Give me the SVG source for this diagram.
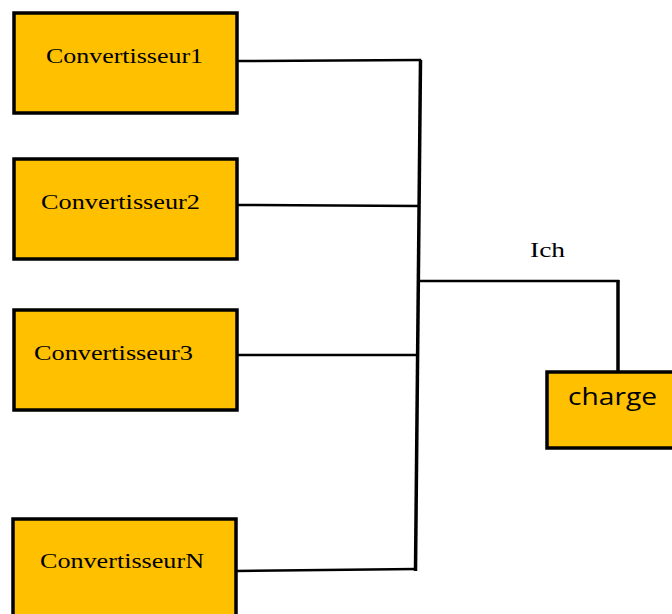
<svg xmlns="http://www.w3.org/2000/svg" width="672" height="614" viewBox="0 0 672 614">
  <style>
    .box { fill: #FFC000; stroke: #000; stroke-width: 3.5; }
    .lbl { font-family: "Liberation Serif", "Times New Roman", serif; font-size: 22px; fill: #000; }
    .lbl2 { font-family: "Open Sans", "Noto Sans", sans-serif; font-size: 24px; fill: #000; }
    .wire { fill: none; stroke: #000; stroke-width: 2.5; stroke-linecap: square; }
    .bus { fill: none; stroke: #000; stroke-width: 3.5; }
  </style>
  <rect width="672" height="614" fill="#fff"/>

  <g id="connectors">
    <!-- common bus -->
    <path class="bus" d="M420.5 60 L415.5 571"/>
    <!-- converter feeders -->
    <path class="wire" d="M237 61 L420 60"/>
    <path class="wire" d="M237 205 L418 206"/>
    <path class="wire" d="M237 355 L417 355"/>
    <path class="wire" d="M236 571 L415 569"/>
    <!-- load feeder -->
    <path class="wire" d="M419 281 L618 281"/>
    <path class="bus" d="M618 280 L618 372"/>
    <text class="lbl" x="530" y="257" textLength="35" lengthAdjust="spacingAndGlyphs">Ich</text>
  </g>

  <g id="conv1">
    <rect class="box" x="14" y="13" width="223" height="100"/>
    <text class="lbl" x="46" y="63" textLength="157" lengthAdjust="spacingAndGlyphs">Convertisseur1</text>
  </g>
  <g id="conv2">
    <rect class="box" x="14" y="159" width="223" height="100"/>
    <text class="lbl" x="41" y="209" textLength="159" lengthAdjust="spacingAndGlyphs">Convertisseur2</text>
  </g>
  <g id="conv3">
    <rect class="box" x="14" y="310" width="223" height="100"/>
    <text class="lbl" x="34" y="360" textLength="159" lengthAdjust="spacingAndGlyphs">Convertisseur3</text>
  </g>
  <g id="convN">
    <rect class="box" x="13" y="519" width="223" height="110"/>
    <text class="lbl" x="40" y="568" textLength="164" lengthAdjust="spacingAndGlyphs">ConvertisseurN</text>
  </g>
  <g id="charge">
    <rect class="box" x="547" y="372" width="135" height="76"/>
    <text class="lbl2" x="568" y="405" textLength="89" lengthAdjust="spacingAndGlyphs">charge</text>
  </g>
</svg>
